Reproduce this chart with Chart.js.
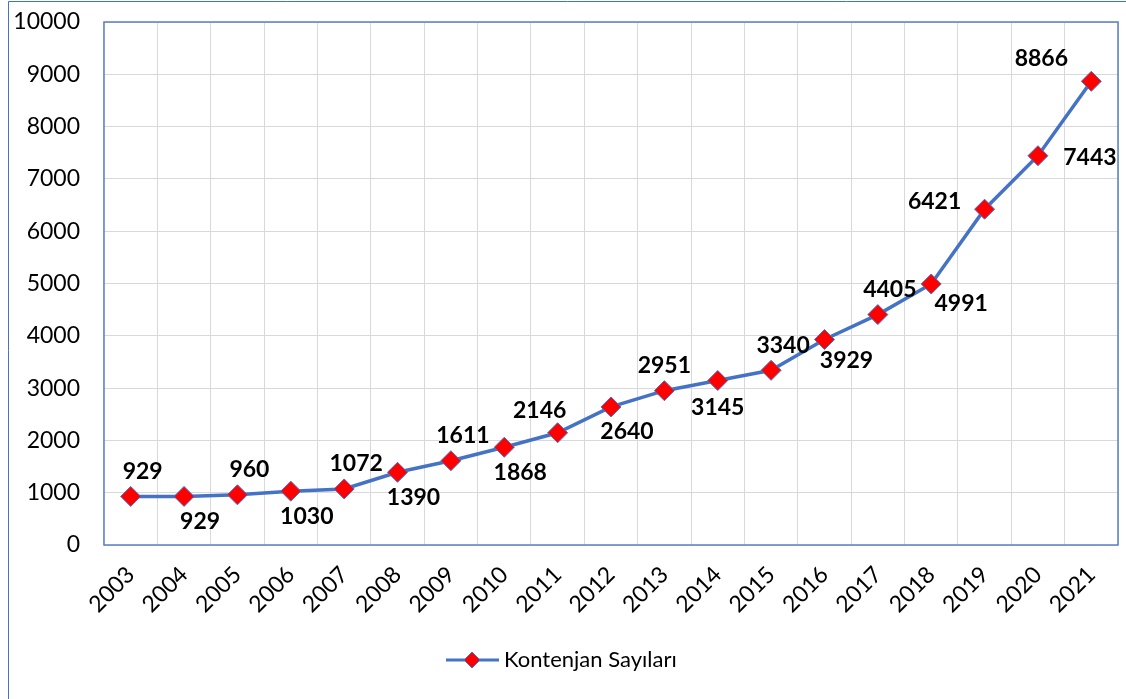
<!DOCTYPE html>
<html>
<head>
<meta charset="utf-8">
<script src="https://cdn.jsdelivr.net/npm/chart.js@4/dist/chart.umd.min.js"></script>
<style>
  html, body { margin: 0; padding: 0; background: #fff; }
  #wrap { width: 1126px; height: 699px; position: relative; }
</style>
</head>
<body>
<div id="wrap"><canvas id="chart"></canvas></div>
<script>
const years = ['2003', '2004', '2005', '2006', '2007', '2008', '2009', '2010', '2011', '2012',
               '2013', '2014', '2015', '2016', '2017', '2018', '2019', '2020', '2021'];
const kontenjan = [929, 929, 960, 1030, 1072, 1390, 1611, 1868, 2146, 2640,
                   2951, 3145, 3340, 3929, 4405, 4991, 6421, 7443, 8866];
const seriesName = 'Kontenjan Sayıları';

// where each value label sits relative to its marker
const labelSide = ['up', 'down', 'up', 'down', 'up', 'down', 'up', 'down', 'upL', 'down',
                   'upC', 'downC', 'up', 'downR', 'up', 'downR2', 'left', 'right', 'upLeft'];
const SIDE_OFFSET = {
    up: [12, -25], down: [16, 25], upC: [0, -25], downC: [0, 27], upL: [-18, -22],
    downR: [22, 21], downR2: [30, 20], left: [-50, -8], right: [52, 2], upLeft: [-50, -23],
};

const BLUE = '#4472C4';
const FONT = "Lato, 'Noto Sans', sans-serif";

const frame = {
    id: 'frame',
    afterDraw(chart) {
        const { ctx, chartArea: a } = chart;
        ctx.save();
        // outer chart border (left + top visible)
        ctx.strokeStyle = BLUE;
        ctx.lineWidth = 1;
        ctx.beginPath();
        ctx.moveTo(8.5, 699);
        ctx.lineTo(8.5, 1.5);
        ctx.lineTo(1126, 1.5);
        ctx.stroke();
        // plot area border
        ctx.strokeStyle = '#5b7fc4';
        ctx.lineWidth = 1.5;
        ctx.strokeRect(a.left, a.top, a.right - a.left, a.bottom - a.top);

        // value labels
        const meta = chart.getDatasetMeta(0);
        ctx.font = 'bold 23px ' + FONT;
        ctx.fillStyle = '#000';
        ctx.textAlign = 'center';
        ctx.textBaseline = 'middle';
        meta.data.forEach((pt, i) => {
            const [dx, dy] = SIDE_OFFSET[labelSide[i]];
            ctx.fillText(String(kontenjan[i]), pt.x + dx, pt.y + dy);
        });

        // legend: line with diamond + text
        const ly = 660, lx = 446;
        ctx.strokeStyle = BLUE;
        ctx.lineWidth = 3;
        ctx.beginPath();
        ctx.moveTo(lx, ly);
        ctx.lineTo(lx + 53, ly);
        ctx.stroke();
        ctx.fillStyle = '#ff0000';
        ctx.strokeStyle = BLUE;
        ctx.lineWidth = 1;
        ctx.beginPath();
        const cx = lx + 26, r = 8;
        ctx.moveTo(cx, ly - r); ctx.lineTo(cx + r, ly); ctx.lineTo(cx, ly + r); ctx.lineTo(cx - r, ly);
        ctx.closePath();
        ctx.fill();
        ctx.stroke();
        ctx.font = '22px ' + FONT;
        ctx.fillStyle = '#000';
        ctx.textAlign = 'left';
        ctx.fillText(seriesName, lx + 58, ly);
        ctx.restore();
    }
};

new Chart(document.getElementById('chart'), {
    type: 'line',
    data: {
        labels: years,
        datasets: [{
            label: seriesName,
            data: kontenjan,
            borderColor: BLUE,
            borderWidth: 3.5,
            pointStyle: 'rectRot',
            pointRadius: 10,
            pointBackgroundColor: '#ff0000',
            pointBorderColor: BLUE,
            pointBorderWidth: 1,
            tension: 0,
            clip: false,
        }]
    },
    options: {
        responsive: true,
        maintainAspectRatio: false,
        animation: false,
        layout: { autoPadding: false, padding: { top: 22, right: 8, left: 0, bottom: 0 } },
        plugins: { legend: { display: false }, tooltip: { enabled: false } },
        scales: {
            x: {
                offset: true,
                grid: { color: '#d9d9d9', offset: true, drawTicks: false },
                border: { display: false },
                afterFit: (s) => { s.height = 154; s.paddingLeft = 0; s.paddingRight = 0; },
                ticks: {
                    color: '#000', font: { family: FONT, size: 23 },
                    minRotation: 45, maxRotation: 45, padding: 16, autoSkip: false,
                },
            },
            y: {
                min: 0, max: 10000,
                grid: { color: '#d9d9d9', drawTicks: false },
                border: { display: false },
                afterFit: (s) => { s.width = 104; s.paddingTop = 0; s.paddingBottom = 0; },
                ticks: {
                    stepSize: 1000, color: '#000', padding: 24,
                    font: { family: FONT, size: 23 },
                    callback: (v) => String(v),
                },
            },
        },
    },
    plugins: [frame],
});
</script>
</body>
</html>
